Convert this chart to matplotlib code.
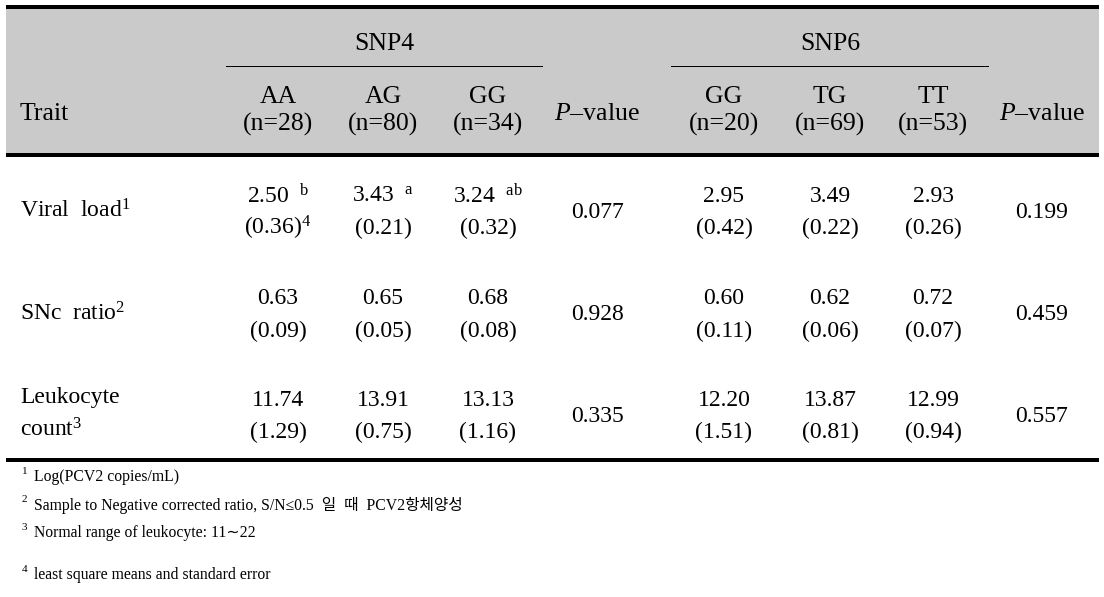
import matplotlib
matplotlib.use("Agg")
import matplotlib.pyplot as plt
from matplotlib.patches import Rectangle

plt.rcParams['font.family'] = ['Liberation Serif', 'Noto Sans CJK KR', 'DejaVu Sans']
plt.rcParams['mathtext.fontset'] = 'custom'
plt.rcParams['mathtext.rm'] = 'Liberation Serif'
plt.rcParams['mathtext.it'] = 'Liberation Serif:italic'

# ---- data ----
snp_names = ["SNP4", "SNP6"]
snp4_genotypes = ["AA", "AG", "GG"]
snp4_n = [28, 80, 34]
snp6_genotypes = ["GG", "TG", "TT"]
snp6_n = [20, 69, 53]
traits = ["Viral  load", "SNc  ratio", "Leukocyte\ncount"]
trait_notes = ["1", "2", "3"]

snp4_mean = [[2.50, 3.43, 3.24], [0.63, 0.65, 0.68], [11.74, 13.91, 13.13]]
snp4_se = [[0.36, 0.21, 0.32], [0.09, 0.05, 0.08], [1.29, 0.75, 1.16]]
snp4_letters = [["b", "a", "ab"], ["", "", ""], ["", "", ""]]
snp4_p = [0.077, 0.928, 0.335]

snp6_mean = [[2.95, 3.49, 2.93], [0.60, 0.62, 0.72], [12.20, 13.87, 12.99]]
snp6_se = [[0.42, 0.22, 0.26], [0.11, 0.06, 0.07], [1.51, 0.81, 0.94]]
snp6_letters = [["", "", ""], ["", "", ""], ["", "", ""]]
snp6_p = [0.199, 0.459, 0.557]

footnotes = ["Log(PCV2 copies/mL)",
             "Sample to Negative corrected ratio, S/N\u22640.5  일  때  PCV2항체양성",
             "Normal range of leukocyte: 11\u223c22",
             "least square means and standard error"]

# ---- layout ----
W, H = 1104, 597
fig = plt.figure(figsize=(W / 100, H / 100), dpi=100)
ax = fig.add_axes([0, 0, 1, 1])
ax.set_xlim(0, W)
ax.set_ylim(H, 0)
ax.axis('off')

BODY = 17
HEAD = 18.5
FOOT = 11.3
gray = '#cacaca'

ax.add_patch(Rectangle((6, 9), 1093, 144, facecolor=gray, edgecolor='none'))
ax.add_patch(Rectangle((6, 5), 1093, 4, facecolor='black', edgecolor='none'))
ax.add_patch(Rectangle((6, 153), 1093, 3.5, facecolor='black', edgecolor='none'))
ax.add_patch(Rectangle((6, 458), 1093, 4, facecolor='black', edgecolor='none'))
ax.add_patch(Rectangle((226, 65.5), 317, 1.2, facecolor='black', edgecolor='none'))
ax.add_patch(Rectangle((671, 65.5), 318, 1.2, facecolor='black', edgecolor='none'))

col4 = [278, 383, 488]
col6 = [724, 830, 933]
pcol = [597, 1042]

# header
ax.text(384, 44, snp_names[0], ha='center', va='center', fontsize=HEAD)
ax.text(830, 44, snp_names[1], ha='center', va='center', fontsize=HEAD)
ax.text(20, 114, "Trait", ha='left', va='center', fontsize=HEAD)
for cols, gts, ns in [(col4, snp4_genotypes, snp4_n), (col6, snp6_genotypes, snp6_n)]:
    for x, g, n in zip(cols, gts, ns):
        ax.text(x, 97, g, ha='center', va='center', fontsize=HEAD)
        ax.text(x, 124, f"(n={n})", ha='center', va='center', fontsize=HEAD)
for x in pcol:
    ax.text(x, 114, r"$\mathit{P}$" + "\u2013value", ha='center', va='center', fontsize=HEAD)

# body
row_y = [211, 314, 415]
for i in range(3):
    y = row_y[i]
    if "\n" in traits[i]:
        a, b = traits[i].split("\n")
        ax.text(20, y - 17, a, ha='left', va='center', fontsize=BODY)
        ax.text(20, y + 15, b + r"${}^{\mathrm{" + trait_notes[i] + "}}$", ha='left', va='center', fontsize=BODY)
    else:
        ax.text(20, y, traits[i] + r"${}^{\mathrm{" + trait_notes[i] + "}}$", ha='left', va='center', fontsize=BODY)
    for cols, means, ses, lets, pv, k in [(col4, snp4_mean, snp4_se, snp4_letters, snp4_p, 0),
                                          (col6, snp6_mean, snp6_se, snp6_letters, snp6_p, 1)]:
        for j, x in enumerate(cols):
            m = f"{means[i][j]:.2f}"
            if lets[i][j]:
                m = m + r"$\ \ {}^{\mathrm{" + lets[i][j] + "}}$"
            s = f"({ses[i][j]:.2f})"
            if k == 0 and i == 0 and j == 0:
                s = s + r"${}^{\mathrm{4}}$"
            ax.text(x, y - 15, m, ha='center', va='center', fontsize=BODY)
            ax.text(x, y + 17, s, ha='center', va='center', fontsize=BODY)
        ax.text(pcol[k], y + 1, f"{pv[i]:.3f}", ha='center', va='center', fontsize=BODY)

# footnotes
foot_y = [477, 505, 533, 575]
for i, (t, y) in enumerate(zip(footnotes, foot_y)):
    ax.text(22, y - 5, str(i + 1), ha='left', va='center', fontsize=8)
    ax.text(34, y, t, ha='left', va='center', fontsize=FOOT)

fig.savefig("out.png", dpi=100)
